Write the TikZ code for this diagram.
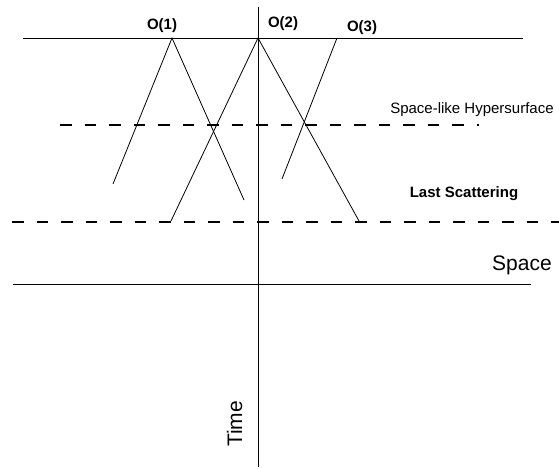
\documentclass[tikz,border=0pt]{standalone}
\usepackage{fontspec}
\setmainfont{Liberation Sans}
\begin{document}
\begin{tikzpicture}[x=1bp,y=-1bp,
  thinline/.style={line width=0.8bp, black},
  dashline/.style={line width=2.6bp, black, dash pattern=on 11.5bp off 13bp},
  lbl/.style={inner sep=0pt, anchor=base, font=\fontsize{15bp}{18bp}\selectfont},
  blbl/.style={lbl, font=\fontsize{15bp}{18bp}\selectfont\bfseries},
  big/.style={inner sep=0pt, anchor=base, font=\fontsize{21bp}{25bp}\selectfont}]
\useasboundingbox (0,0) rectangle (559,469);
% coordinates
\coordinate (tl) at (23,38);
\coordinate (tr) at (523,38);
\coordinate (axtop) at (258,7);
\coordinate (axbot) at (258,467);
\coordinate (sl) at (13,284);
\coordinate (sr) at (531,284);
\coordinate (o1) at (172,38);
\coordinate (o1l) at (113,184);
\coordinate (o1r) at (244,200);
\coordinate (o2) at (258,38);
\coordinate (o2l) at (171,221);
\coordinate (o2r) at (359,221);
\coordinate (o3) at (337,38);
\coordinate (o3b) at (282,179);
\coordinate (h1l) at (60,125);
\coordinate (h1r) at (479,125);
\coordinate (h2l) at (12,222);
\coordinate (h2r) at (559,222);
% solid lines
\draw[thinline] (tl) -- (tr);
\draw[thinline] (axtop) -- (axbot);
\draw[thinline] (sl) -- (sr);
\draw[thinline] (o1l) -- (o1) -- (o1r);
\draw[thinline] (o2l) -- (o2) -- (o2r);
\draw[thinline] (o3) -- (o3b);
% dashed lines
\draw[dashline] (h1l) -- (h1r);
\draw[dashline] (h2l) -- (h2r);
% labels
\node[blbl] (l1) at (162,30) {O(1)};
\node[blbl] (l2) at (283,28) {O(2)};
\node[blbl] (l3) at (362,32) {O(3)};
\node[lbl] (hyp) at (472,114) {Space-like Hypersurface};
\node[blbl] (ls) at (464,198) {Last Scattering};
\node[big] (space) at (522,271) {Space};
\node[big, rotate=90] (time) at (242,424) {Time};
\end{tikzpicture}
\end{document}
